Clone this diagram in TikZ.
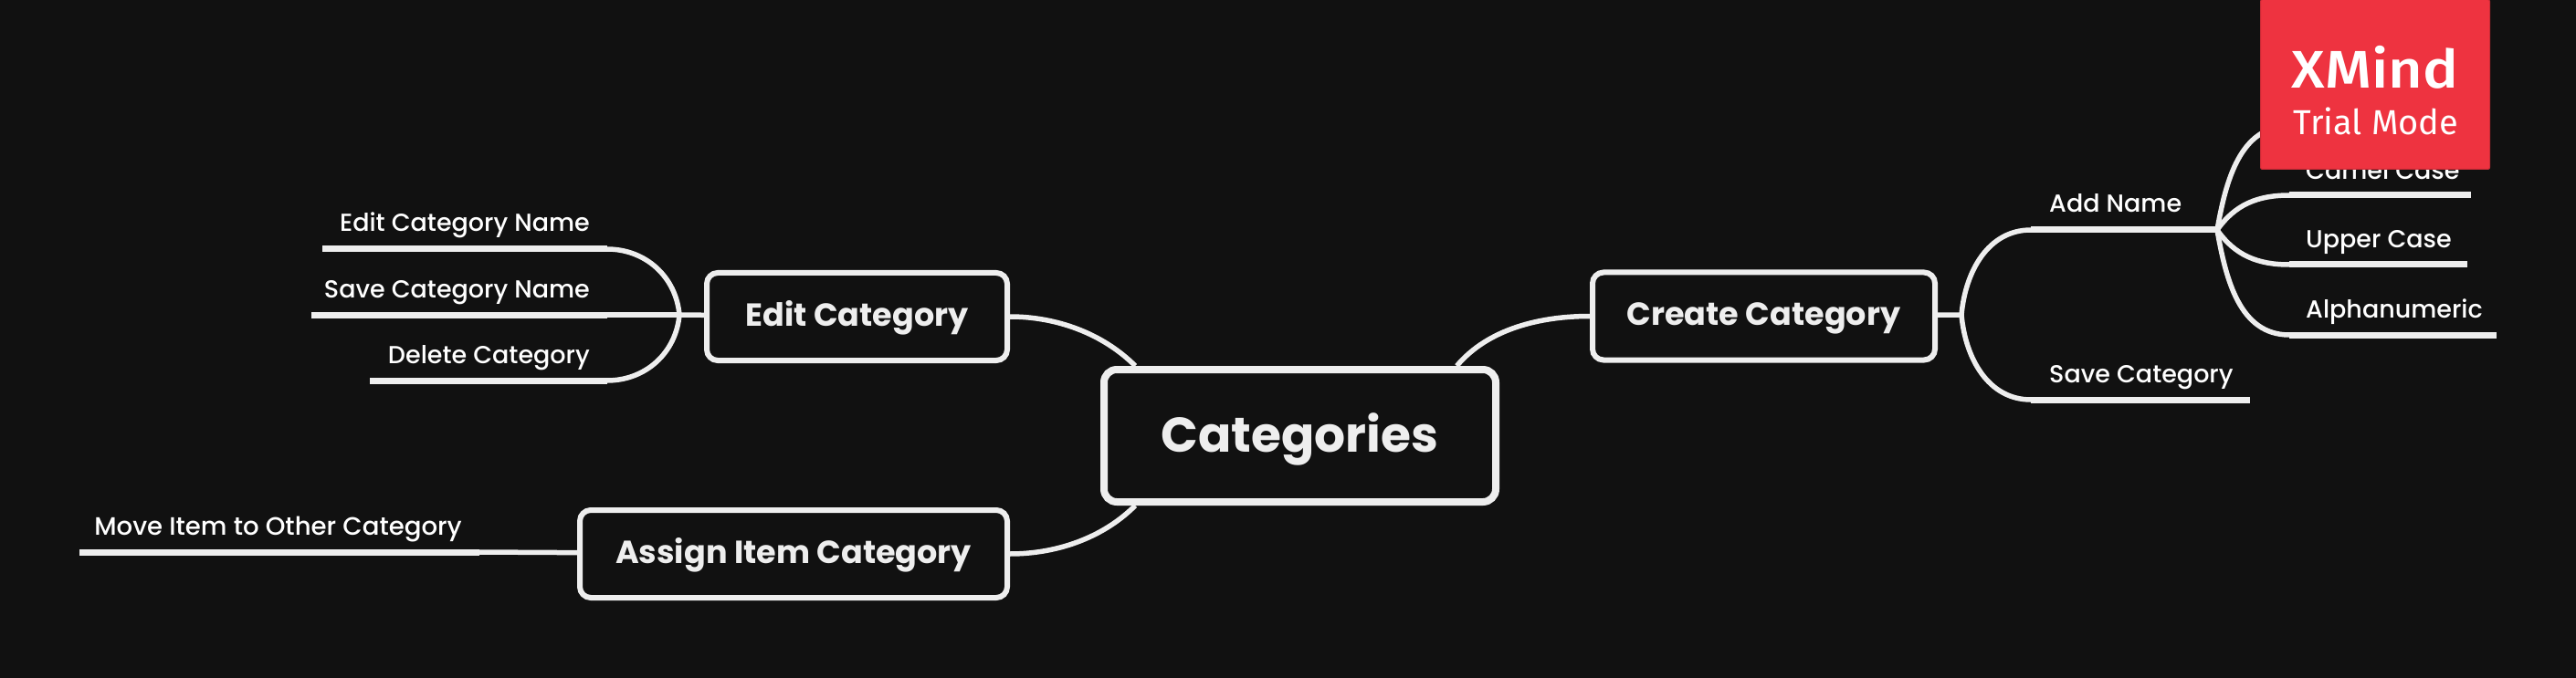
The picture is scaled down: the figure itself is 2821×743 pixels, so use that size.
\documentclass[tikz,border=0pt]{standalone}
\usepackage{fontspec}
\setmainfont{Poppins}
\newfontfamily\leaffont{Poppins Medium}
\newfontfamily\badgefont{Fira Sans}
\newfontfamily\badgeboldfont{Fira Sans Medium}[FakeStretch=1.12]
\usetikzlibrary{
  chains,
  scopes
}
\definecolor{boardbg}{HTML}{111111}
\definecolor{linegray}{HTML}{EEEEEE}
\definecolor{badgered}{HTML}{EE3340}

\begin{document}
\begin{tikzpicture}[
      x=1pt,y=-1pt,
      rootbox/.style={
         rectangle,
         rounded corners=14pt,
         line width=8pt,
         draw=linegray,
         fill=boardbg,
         text=linegray,
         minimum width=429pt,
         minimum height=145pt,
         text height=50pt,
         text depth=15pt,
         font=\bfseries\fontsize{53.5}{55}\selectfont
      },
      topicbox/.style={
         rectangle,
         rounded corners=12pt,
         line width=6pt,
         draw=linegray,
         fill=boardbg,
         text=linegray,
         minimum height=96pt,
         text height=30pt,
         text depth=10pt,
         font=\bfseries\fontsize{35}{35}\selectfont
      },
      leaf/.style={
         text=white,
         inner sep=0pt,
         font=\leaffont\fontsize{27}{27}\selectfont
      },
      point/.style={coordinate},
      every join/.style={line width=5.5pt,draw=linegray},
      underline/.style={line width=7pt},
      curve/.style 2 args={out=#1,in=#2},
      root link/.style={line width=5.5pt,draw=linegray,looseness=.88},
    ]
    \fill[boardbg] (0,0) rectangle (2821,743);
    \useasboundingbox (0,0) rectangle (2821,743);

    \node (nroot) [rootbox] at (1423.5,477.5) {Categories};
    \node (nedit) [topicbox, minimum width=329pt] at (938.5,347) {Edit Category};
    \node (nassign) [topicbox, minimum width=468pt] at (869,607) {Assign Item Category};
    \node (ncreate) [topicbox, minimum width=375pt] at (1931.5,346.5) {Create Category};

    \node (lname) [leaf, anchor=base east] at (646,254) {Edit Category Name};
    \node (lsavename) [leaf, anchor=base east] at (646,326) {Save Category Name};
    \node (ldelete) [leaf, anchor=base east] at (646,398) {Delete Category};
    \node (lmove) [leaf, anchor=base east, font=\leaffont\fontsize{27.6}{27}\selectfont] at (506,586) {Move Item to Other Category};
    \node (ladd) [leaf, anchor=base west] at (2244,233) {Add Name};
    \node (lsave) [leaf, anchor=base west] at (2244,419) {Save Category};
    \node (lcamel) [leaf, anchor=base west] at (2525,197) {Camel Case};
    \node (lupper) [leaf, anchor=base west] at (2525,272) {Upper Case};
    \node (lalpha) [leaf, anchor=base west] at (2525,348) {Alphanumeric};

    \node (h1) [point] at (744,345) {};
    \node (a1) [point] at (665,273) {};
    \node (a2) [point] at (353,273) {};
    \node (b1) [point] at (665,345) {};
    \node (b2) [point] at (341,345) {};
    \node (c1) [point] at (665,417) {};
    \node (c2) [point] at (405,417) {};
    \node (d1) [point] at (525,605) {};
    \node (d2) [point] at (87,605) {};
    \node (h2) [point] at (2148,345) {};
    \node (e1) [point] at (2224,252) {};
    \node (f1) [point] at (2224,438) {};
    \node (f2) [point] at (2464,438) {};
    \node (h3) [point] at (2428,252) {};
    \node (g0) [point] at (2507,138) {};
    \node (g1) [point] at (2507,214) {};
    \node (g2) [point] at (2706,214) {};
    \node (i1) [point] at (2507,290) {};
    \node (i2) [point] at (2702,290) {};
    \node (j1) [point] at (2507,367) {};
    \node (j2) [point] at (2734,367) {};

    \draw[root link] (nedit.east) to[out=0,in=135] (nroot.157.7);
    \draw[root link] (nassign.east) to[out=0,in=-135] (nroot.-157.7);
    \draw[root link] (ncreate.west) to[out=180,in=50] (nroot.24.1);

  { [start chain]
       \chainin (nedit);
       \chainin (h1)    [join];
       \chainin (b1)    [join];
       \chainin (b2)    [join=by underline];
  }
  { [start chain]
       \chainin (h1);
       \chainin (a1)    [join=by {curve={95}{0}}];
       \chainin (a2)    [join=by underline];
  }
  { [start chain]
       \chainin (h1);
       \chainin (c1)    [join=by {curve={-95}{0}}];
       \chainin (c2)    [join=by underline];
  }
  { [start chain]
       \chainin (nassign);
       \chainin (d1)    [join];
       \chainin (d2)    [join=by underline];
  }
  { [start chain]
       \chainin (ncreate);
       \chainin (h2)    [join];
       \chainin (e1)    [join=by {curve={85}{180}}];
       \chainin (h3)    [join=by underline];
  }
  { [start chain]
       \chainin (h2);
       \chainin (f1)    [join=by {curve={-85}{180}}];
       \chainin (f2)    [join=by underline];
  }
  { [start chain]
       \chainin (h3);
       \chainin (g0)    [join=by {curve={80}{180}}];
  }
  { [start chain]
       \chainin (h3);
       \chainin (g1)    [join=by {curve={55}{180}}];
       \chainin (g2)    [join=by underline];
  }
  { [start chain]
       \chainin (h3);
       \chainin (i1)    [join=by {curve={-55}{180}}];
       \chainin (i2)    [join=by underline];
  }
  { [start chain]
       \chainin (h3);
       \chainin (j1)    [join=by {curve={-80}{180}}];
       \chainin (j2)    [join=by underline];
  }

    \node (nbadge) [rectangle, rounded corners=2pt, fill=badgered, draw=badgered!85!black, line width=1pt,
       minimum width=251pt, minimum height=186pt] at (2601,92.5) {};
    \node (lxmind) [text=white, inner sep=0pt, anchor=base, font=\badgeboldfont\fontsize{58}{58}\selectfont] at (2601,97) {XMind};
    \node (ltrial) [text=white, inner sep=0pt, anchor=base, font=\badgefont\fontsize{38}{38}\selectfont] at (2602,148) {Trial Mode};
\end{tikzpicture}
\end{document}
